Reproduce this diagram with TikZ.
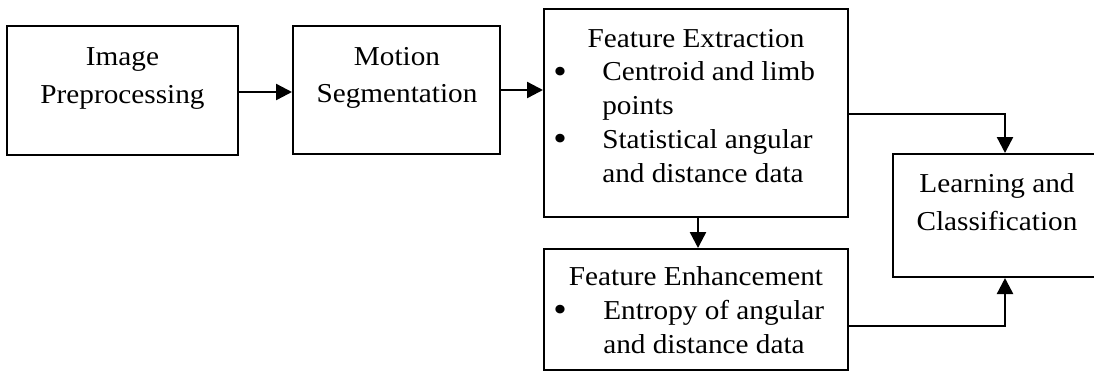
\documentclass[tikz,border=0pt]{standalone}
\usepackage{fontspec}
\setmainfont{Liberation Serif}[FakeStretch=1.07]
\usetikzlibrary{arrows.meta,calc}

\tikzset{
  blockbox/.style={draw=black, line width=1.5pt, fill=none, inner sep=0pt},
  label/.style={inner sep=0pt, anchor=base, font=\fontsize{20.5pt}{25pt}\selectfont},
  labelleft/.style={label, anchor=base west},
  bulletmark/.style={inner sep=0pt, anchor=base, font=\fontsize{27pt}{30pt}\selectfont},
  flow/.style={line width=1.8pt, -{Triangle[length=12pt,width=12pt]}}
}

\begin{document}
\begin{tikzpicture}[x=0.75pt, y=-0.75pt]
  \useasboundingbox (0,0) rectangle (1094,372);
  \clip (0,0) rectangle (1094,372);

  % blocks
  \node[blockbox, minimum width=173.25pt, minimum height=96.75pt] (pre) at (122.5,90.5) {};
  \node[blockbox, minimum width=155.25pt, minimum height=96pt] (seg) at (396.5,90) {};
  \node[blockbox, minimum width=228pt, minimum height=156pt] (ext) at (696,113) {};
  \node[blockbox, minimum width=228pt, minimum height=90.75pt] (enh) at (696,309.5) {};
  \node[blockbox, minimum width=168pt, minimum height=92.25pt] (cls) at (1005,215.5) {};

  % block texts
  \node[label] (preA) at (122.5,65) {Image};
  \node[label] (preB) at (122.5,103) {Preprocessing};

  \node[label] (segA) at (397,65) {Motion};
  \node[label] (segB) at (397,102) {Segmentation};

  \node[label] (extA) at (696,47) {Feature Extraction};
  \node[bulletmark] (extBa) at (560,83) {\textbullet};
  \node[labelleft] (extB) at (602,80.75) {Centroid and limb};
  \node[labelleft] (extC) at (602,114.5) {points};
  \node[bulletmark] (extDa) at (560,150.5) {\textbullet};
  \node[labelleft] (extD) at (602,148.25) {Statistical angular};
  \node[labelleft] (extE) at (602,182) {and distance data};

  \node[label] (enhA) at (696,285) {Feature Enhancement};
  \node[bulletmark] (enhBa) at (560,321.5) {\textbullet};
  \node[labelleft] (enhB) at (603,319) {Entropy of angular};
  \node[labelleft] (enhC) at (603,353) {and distance data};

  \node[label] (clsA) at (997,192) {Learning and};
  \node[label] (clsB) at (997,230) {Classification};

  % connectors
  \draw[flow] ($(pre.east)+(0,1.5)$) -- ($(seg.west)+(0,2)$);
  \draw[flow] (seg.east) -- (seg.east -| ext.west);
  \draw[flow] ($(ext.south)+(2,0)$) -- ($(enh.north)+(2,0)$);
  \draw[flow] ($(ext.east)+(0,1)$) -| (cls.north);
  \draw[flow] ($(enh.east)+(0,16.5)$) -| (cls.south);
\end{tikzpicture}
\end{document}
